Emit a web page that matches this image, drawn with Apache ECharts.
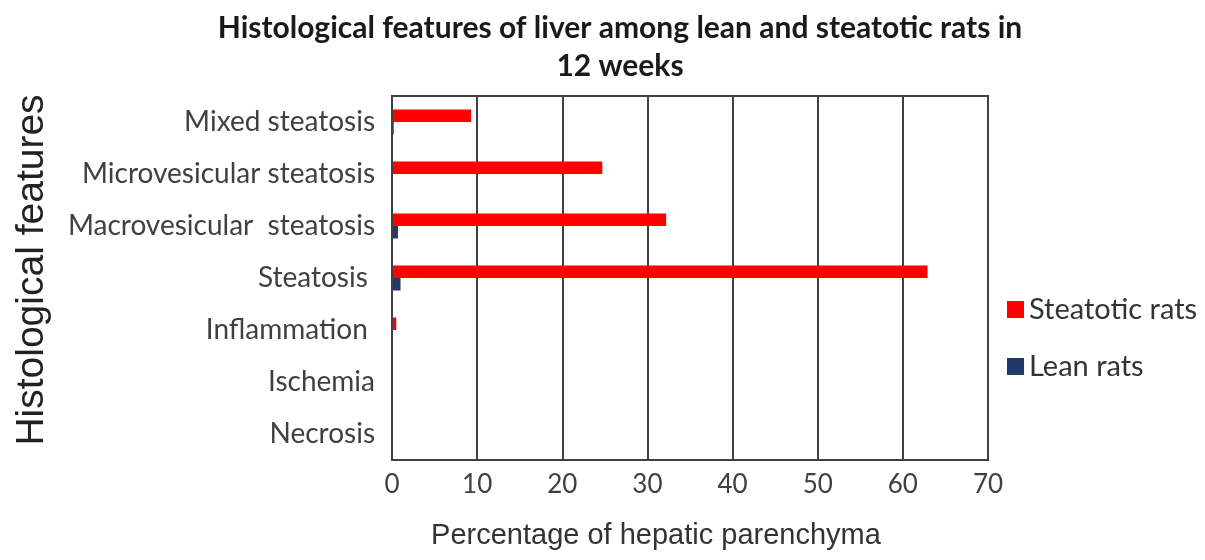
<!DOCTYPE html>
<html>
<head>
<meta charset="utf-8">
<script src="https://cdn.jsdelivr.net/npm/echarts@6/dist/echarts.min.js"></script>
<style>html,body{margin:0;padding:0;background:#fff;}#c{width:1205px;height:560px;}</style>
</head>
<body>
<div id="c"></div>
<script>
const categories = ['Mixed steatosis', 'Microvesicular steatosis', 'Macrovesicular  steatosis', 'Steatosis ', 'Inflammation ', 'Ischemia', 'Necrosis'];
const steatoticRats = [9.3, 24.7, 32.2, 62.9, 0.5, 0, 0];
const leanRats = [0.2, 0, 0.7, 1.0, 0, 0, 0];
const xTicks = [0, 10, 20, 30, 40, 50, 60, 70];

const chart = echarts.init(document.getElementById('c'), null, {renderer: 'canvas'});
chart.setOption({
  backgroundColor: '#ffffff',
  animation: false,
  title: {
    text: 'Histological features of liver among lean and steatotic rats in\n12 weeks',
    left: 615, top: 4, textAlign: 'center',
    textStyle: {fontFamily: 'Lato', fontWeight: 'bold', fontSize: 30, color: '#1a1a1a', lineHeight: 38}
  },
  legend: {
    orient: 'vertical', left: 1002, top: 290, itemGap: 28,
    itemWidth: 17, itemHeight: 17, icon: 'rect',
    textStyle: {fontFamily: 'Lato', fontSize: 29, color: '#333'},
    data: ['Steatotic rats', 'Lean rats']
  },
  grid: {left: 392, right: 217, top: 96, bottom: 100, containLabel: false},
  xAxis: {
    type: 'value', min: xTicks[0], max: xTicks[xTicks.length - 1], interval: 10,
    name: 'Percentage of hepatic parenchyma', nameLocation: 'middle', nameGap: 61,
    nameTextStyle: {fontFamily: 'Liberation Sans', fontSize: 29, color: '#333', padding: [0, 68, 0, 0]},
    axisLine: {show: true, lineStyle: {color: '#404040', width: 2}},
    axisTick: {show: false},
    axisLabel: {fontFamily: 'Lato', fontSize: 26, color: '#404040', margin: 12},
    splitLine: {show: true, lineStyle: {color: '#404040', width: 2}}
  },
  yAxis: {
    type: 'category', data: categories, inverse: true,
    name: 'Histological features', nameLocation: 'middle', nameGap: 340, nameRotate: 90,
    nameTextStyle: {fontFamily: 'Liberation Sans', fontSize: 39, color: '#222', padding: [0, 0, 0, 16]},
    axisLine: {show: true, lineStyle: {color: '#404040', width: 2}},
    axisTick: {show: false},
    axisLabel: {fontFamily: 'Lato', fontSize: 28, color: '#404040', margin: 17},
    splitLine: {show: false}
  },
  series: [
    {
      name: 'Steatotic rats', type: 'bar', data: steatoticRats,
      itemStyle: {color: '#ff0000'}, barWidth: 12.5, barGap: '0%'
    },
    {
      name: 'Lean rats', type: 'bar', data: leanRats,
      itemStyle: {color: '#1f3a68'}, barWidth: 12.5, barGap: '0%'
    }
  ],
  graphic: [{
    type: 'rect', z: 10, silent: true,
    shape: {x: 392, y: 96, width: 596, height: 364},
    style: {fill: 'none', stroke: '#404040', lineWidth: 2}
  }]
});
</script>
</body>
</html>
